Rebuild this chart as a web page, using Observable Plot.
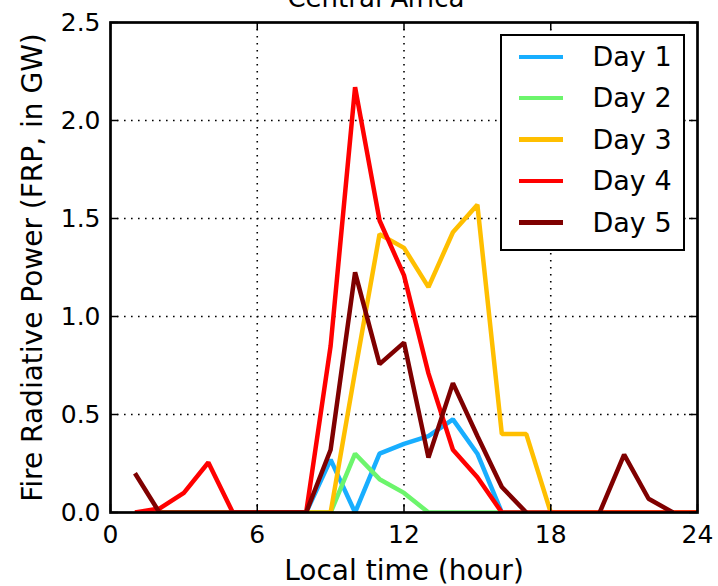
<!DOCTYPE html>
<html><head><meta charset="utf-8">
<script src="https://cdn.jsdelivr.net/npm/d3@7"></script>
<script src="https://cdn.jsdelivr.net/npm/@observablehq/plot@0.6"></script>
<style>
html,body{margin:0;padding:0;background:#fff;}
#wrap{position:relative;width:718px;height:586px;overflow:hidden;font-family:"DejaVu Sans",sans-serif;}
#wrap svg{overflow:visible;display:block;}
#legend{position:absolute;left:500px;top:34px;width:185px;height:217px;box-sizing:border-box;border:2.5px solid #000;background:#fff;}
.sw{position:absolute;left:16.5px;width:44px;height:4.5px;}
.lb{position:absolute;left:90.5px;height:32px;line-height:32px;font-size:27px;color:#000;white-space:nowrap;font-family:"DejaVu Sans",sans-serif;}
</style></head>
<body><div id="wrap"></div>
<script>
// Data (hourly Fire Radiative Power, GW)
const hours = [1,2,3,4,5,6,7,8,9,10,11,12,13,14,15,16,17,18,19,20,21,22,23,24];
const day1 = [0,0,0,0,0,0,0,0,0.27,0,0.30,0.35,0.39,0.475,0.30,0,0,0,0,0,0,0,0,0];
const day2 = [0,0,0,0,0,0,0,0,0,0.30,0.17,0.10,0,0,0,0,0,0,0,0,0,0,0,0];
const day3 = [0,0,0,0,0,0,0,0,0,0.72,1.42,1.35,1.15,1.43,1.57,0.40,0.40,0,0,0,0,0,0,0];
const day4 = [0,0.02,0.10,0.255,0,0,0,0,0.85,2.17,1.49,1.21,0.71,0.32,0.18,0,0,0,0,0,0,0,0,0];
const day5 = [0.20,0,0,0,0,0,0,0,0.32,1.225,0.757,0.867,0.28,0.66,0.39,0.13,0,null,null,0,0.295,0.07,0,null];
const dayLabels = ["Day 1","Day 2","Day 3","Day 4","Day 5"];
const dayColors = ["#18aeff","#6cf56c","#ffbf00","#ff0000","#7f0000"];
const xTicks = [0,6,12,18,24];
const yTicks = [0,0.5,1.0,1.5,2.0,2.5];
const titleText = "Central Africa";
const xLabel = "Local time (hour)";
const yLabel = "Fire Radiative Power (FRP, in GW)";

const series = [day1, day2, day3, day4, day5];
const rows = dayLabels.flatMap((lab, i) => hours.map((h, j) => ({hour: h, frp: series[i][j], day: lab})));

const W = 718, H = 586, mL = 110, mR = 21, mT = 22, mB = 74;
const pw = W - mL - mR, ph = H - mT - mB;
const tick = 8;
const gridStyle = {stroke: "black", strokeOpacity: 1, strokeWidth: 1.6, strokeDasharray: "1.6,5.4"};

const chart = Plot.plot({
  width: W, height: H,
  marginLeft: mL, marginRight: mR, marginTop: mT, marginBottom: mB,
  style: {fontFamily: "DejaVu Sans", fontSize: "25px", background: "white", color: "black", overflow: "visible"},
  x: {domain: [0, 24]},
  y: {domain: [0, 2.5]},
  color: {domain: dayLabels, range: dayColors},
  marks: [
    Plot.gridX(xTicks.slice(1, -1), {...gridStyle}),
    Plot.gridY(yTicks.slice(1, -1), {...gridStyle}),
    Plot.line(rows, {x: "hour", y: "frp", z: "day", stroke: "day", strokeWidth: 4.5, strokeLinejoin: "miter", strokeLinecap: "butt", clip: true}),
    // inward ticks on all four sides
    Plot.tickX(xTicks, {x: d => d, insetTop: ph - tick, stroke: "black", strokeWidth: 1.5}),
    Plot.tickX(xTicks, {x: d => d, insetBottom: ph - tick, stroke: "black", strokeWidth: 1.5}),
    Plot.tickY(yTicks, {y: d => d, insetRight: pw - tick, stroke: "black", strokeWidth: 1.5}),
    Plot.tickY(yTicks, {y: d => d, insetLeft: pw - tick, stroke: "black", strokeWidth: 1.5}),
    Plot.frame({stroke: "black", strokeWidth: 2.7}),
    Plot.axisX({anchor: "bottom", ticks: xTicks, tickSize: 0, tickPadding: 13, fontSize: 25, label: null, tickFormat: d3.format("d")}),
    Plot.axisY({anchor: "left", ticks: yTicks, tickSize: 0, tickPadding: 10, fontSize: 25, label: null, tickFormat: d3.format(".1f")}),
    Plot.text([xLabel], {frameAnchor: "bottom", dy: 59, fontSize: 28, lineAnchor: "middle", textAnchor: "middle", fill: "black"}),
    Plot.text([yLabel], {frameAnchor: "left", dx: -77, rotate: -90, fontSize: 28, lineAnchor: "middle", textAnchor: "middle", fill: "black"}),
    Plot.text([titleText], {frameAnchor: "top", dx: -28, dy: -24, fontSize: 26, lineAnchor: "middle", textAnchor: "middle", fill: "black"})
  ]
});

const wrap = document.getElementById("wrap");
wrap.appendChild(chart);

// Legend inside the plot area (upper right)
const legend = document.createElement("div");
legend.id = "legend";
const rowCenters = [20.8, 62.2, 103.5, 145.2, 186.5];
dayLabels.forEach((lab, i) => {
  const sw = document.createElement("div");
  sw.className = "sw";
  sw.style.top = (rowCenters[i] - 2.25) + "px";
  sw.style.background = dayColors[i];
  legend.appendChild(sw);
  const lb = document.createElement("div");
  lb.className = "lb";
  lb.style.top = (rowCenters[i] - 16) + "px";
  lb.textContent = lab;
  legend.appendChild(lb);
});
wrap.appendChild(legend);
</script>
</body></html>
